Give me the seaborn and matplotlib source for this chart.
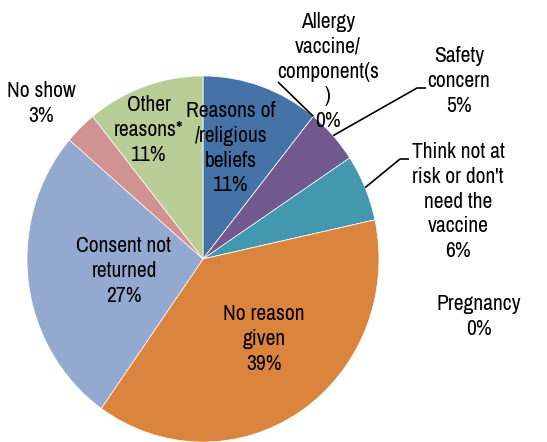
import numpy as np
import pandas as pd
import matplotlib
matplotlib.use("Agg")
import matplotlib.pyplot as plt
import seaborn as sns

# Reasons for not being vaccinated (share of responses, %)
categories = [
    "Reasons of\n/religious\nbeliefs",
    "Allergy\nvaccine/\ncomponent(s\n)",
    "Safety\nconcern",
    "Think not at\nrisk or don't\nneed the\nvaccine",
    "Pregnancy",
    "No reason\ngiven",
    "Consent not\nreturned",
    "No show",
    "Other\nreasons*",
]
shares = [11, 0, 5, 6, 0, 39, 27, 3, 11]
colors = ["#4572A7", "#AA4643", "#71588F", "#4198AF", "#89A54E",
          "#DB843D", "#93A9CF", "#D19392", "#B9CD96"]

df = pd.DataFrame({"reason": categories, "share": shares, "color": colors})

sns.set_theme(style="white")
plt.rcParams["font.family"] = ["Archivo Narrow", "Roboto Condensed", "DejaVu Sans"]

W, H = 547, 442
K = 1.04  # the pie is drawn slightly taller than wide
fig = plt.figure(figsize=(W / 100, H / 100), dpi=100)
ax = fig.add_axes([0, 0, 1, 1])


def to_data(px, py):
    return px, (H - py) / K


cx, cy = to_data(203, 259)
r = 176
wedges, _ = ax.pie(df["share"], colors=df["color"], startangle=90,
                   counterclock=False, center=(cx, cy), radius=r,
                   wedgeprops=dict(edgecolor="white", linewidth=0.5))
ax.set_xlim(0, W)
ax.set_ylim(0, H / K)
ax.set_aspect("auto")
ax.axis("off")

# label positions: horizontal centre and top of the text block (pixels from top)
label_pos = [
    (231, 101), (328, 12), (459, 46), (458, 142), (479, 294),
    (264, 304), (124, 236), (41, 81), (149, 95),
]
for (name, val), (px, py) in zip(zip(df["reason"], df["share"]), label_pos):
    x, y = to_data(px, py)
    ax.text(x, y, f"{name}\n{val:.0f}%", ha="center", va="top",
            multialignment="center", fontsize=15.5, color="black",
            linespacing=1.3)


def edge_point(idx, where):
    w = wedges[idx]
    ang = np.deg2rad(w.theta1 if where == "start" else (w.theta1 + w.theta2) / 2)
    return cx + r * np.cos(ang), cy + r * np.sin(ang)


# leader lines for the small wedges
lines = [
    (1, "start", [(278, 82)]),
    (2, "mid", [(417, 88), (426, 88)]),
    (3, "mid", [(400, 159), (409, 159)]),
]
for idx, where, pts in lines:
    x0, y0 = edge_point(idx, where)
    xs = [x0] + [to_data(*p)[0] for p in pts]
    ys = [y0] + [to_data(*p)[1] for p in pts]
    ax.plot(xs, ys, color="black", lw=1.2, solid_capstyle="butt")

fig.savefig("out.png", dpi=100)
